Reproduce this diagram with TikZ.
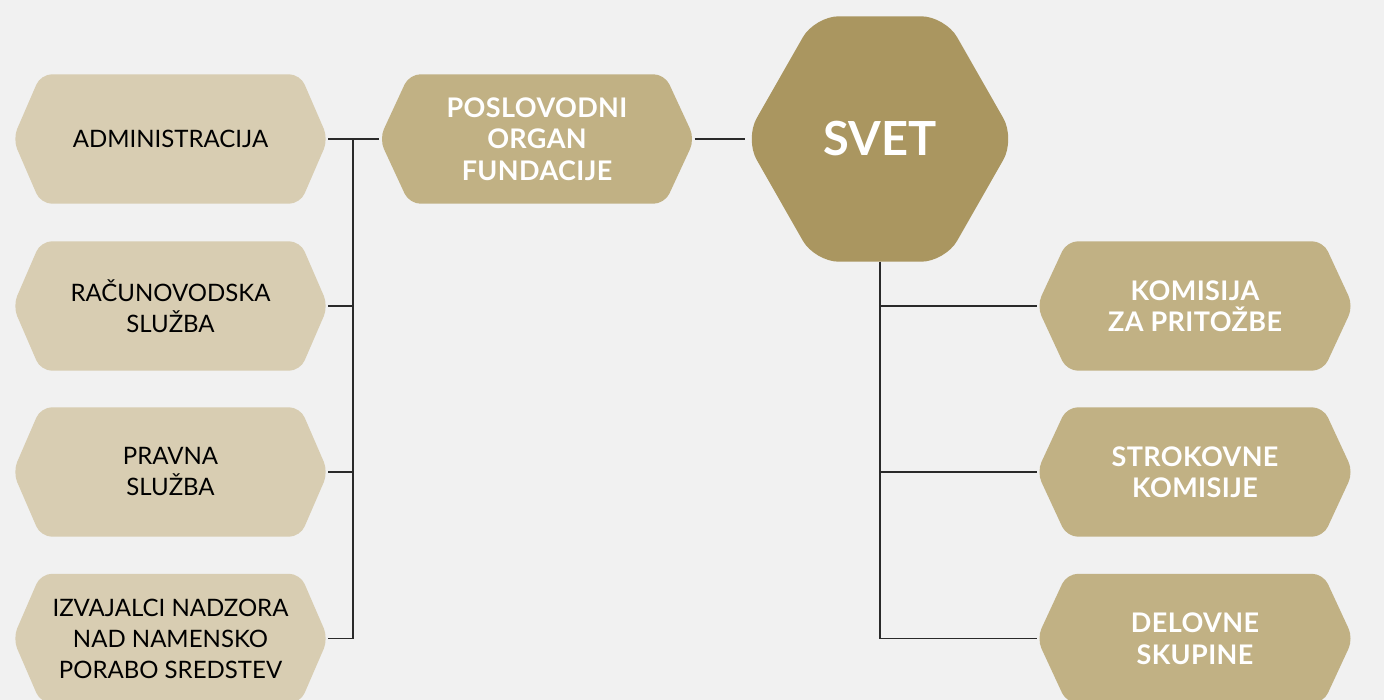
\documentclass[tikz,border=0pt]{standalone}
\usepackage{fontspec}
\setmainfont{Lato}
\usetikzlibrary{calc}
\pgfdeclarelayer{bg}
\pgfdeclarelayer{hex}
\pgfsetlayers{bg,hex,main}
\definecolor{bgc}{HTML}{F1F1F1}
\definecolor{lightc}{HTML}{D8CDB2}
\definecolor{midc}{HTML}{C1B184}
\definecolor{darkc}{HTML}{AA9660}
\definecolor{linec}{HTML}{2A2A2A}
\newcommand{\whitefont}{\fontsize{27}{31.5}\selectfont\bfseries\addfontfeatures{LetterSpace=1.5}}
\tikzset{
  hexnode/.style={draw=none, inner sep=0pt, align=center, minimum height=129pt},
  leftbox/.style={hexnode, minimum width=315pt, text=black, font=\fontsize{24}{31}\selectfont},
  centerbox/.style={hexnode, minimum width=315pt, text=white, font=\whitefont},
  rightbox/.style={hexnode, minimum width=316pt, text=white, font=\whitefont},
  svetbox/.style={draw=none, inner sep=0pt, minimum width=270pt, minimum height=245pt, text=white, font=\fontsize{47}{47}\selectfont\bfseries},
  conn/.style={draw=linec, line width=1.2pt}
}
\newcommand{\hexfill}[3]{%
  \begin{pgfonlayer}{hex}
  \fill[#3, rounded corners=11pt] (#1.west) -- ([xshift=#2pt]#1.north west) -- ([xshift=-#2pt]#1.north east) -- (#1.east) -- ([xshift=-#2pt]#1.south east) -- ([xshift=#2pt]#1.south west) -- cycle;
  \end{pgfonlayer}}
\begin{document}
\begin{tikzpicture}[x=1pt,y=-1pt]
\begin{pgfonlayer}{bg}
\fill[bgc] (0,0) rectangle (1384,700);
\end{pgfonlayer}
\useasboundingbox (0,0) rectangle (1384,700);
% left column
\node[leftbox] (adm) at (170.5,139) {ADMINISTRACIJA};
\node[leftbox] (rac) at (170.5,306) {RAČUNOVODSKA\\SLUŽBA};
\node[leftbox] (prv) at (170.5,472) {PRAVNA\\SLUŽBA};
\node[leftbox] (izv) at (170.5,638.5) {IZVAJALCI NADZORA\\NAD NAMENSKO\\PORABO SREDSTEV};
\hexfill{adm}{28}{lightc}
\hexfill{rac}{28}{lightc}
\hexfill{prv}{28}{lightc}
\hexfill{izv}{28}{lightc}
% middle
\node[centerbox] (pos) at (537,139) {POSLOVODNI\\ORGAN\\FUNDACIJE};
\hexfill{pos}{30}{midc}
\node[svetbox] (svet) at (880,139) {SVET};
\begin{pgfonlayer}{hex}
\fill[darkc, rounded corners=24pt] (svet.west) -- ([xshift=70pt]svet.north west) -- ([xshift=-70pt]svet.north east) -- (svet.east) -- ([xshift=-70pt]svet.south east) -- ([xshift=70pt]svet.south west) -- cycle;
\end{pgfonlayer}
% right column
\node[rightbox] (kom) at (1195,306) {KOMISIJA\\ZA PRITOŽBE};
\node[rightbox] (str) at (1195,472) {STROKOVNE\\KOMISIJE};
\node[rightbox] (del) at (1195,638.5) {DELOVNE\\SKUPINE};
\hexfill{kom}{30}{midc}
\hexfill{str}{30}{midc}
\hexfill{del}{30}{midc}
% connectors
\coordinate (busL) at (353,139);
\draw[conn] (adm.east) -- (pos.west);
\draw[conn] (busL) -- (busL |- izv.east);
\draw[conn] (rac.east) -- (rac.east -| busL);
\draw[conn] (prv.east) -- (prv.east -| busL);
\draw[conn] (izv.east) -- (izv.east -| busL);
\draw[conn] (pos.east) -- (svet.west);
\draw[conn] (svet.south) -- (svet.south |- del.west);
\draw[conn] (svet.south |- kom.west) -- (kom.west);
\draw[conn] (svet.south |- str.west) -- (str.west);
\draw[conn] (svet.south |- del.west) -- (del.west);
\end{tikzpicture}
\end{document}
